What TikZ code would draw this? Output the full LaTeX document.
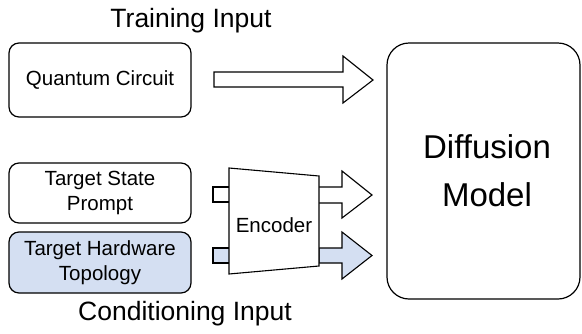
\documentclass[tikz,border=0pt]{standalone}
\usepackage{fontspec}
\setmainfont{Liberation Sans}
\definecolor{lblue}{HTML}{D4DFF2}
\tikzset{
  box/.style={draw=black, line width=1.2pt, rounded corners=10pt},
  shp/.style={draw=black, line width=1.1pt, line join=miter},
  lbl/.style={inner sep=0pt, align=center, font=\fontsize{20.5}{25}\selectfont},
  head/.style={inner sep=0pt, font=\fontsize{26.5}{30}\selectfont},
}
\begin{document}
\begin{tikzpicture}[x=1pt,y=-1pt]
\useasboundingbox (0,0) rectangle (582,333);
% boxes
\draw[box] (9,43) rectangle (191,117);
\node[lbl] (qc) at (100,80) {Quantum Circuit};
\draw[box] (9,163) rectangle (191,223);
\node[lbl] (tsp) at (100,193) {Target State\\Prompt};
\draw[box, fill=lblue] (9,232) rectangle (191,293);
\node[lbl] (thw) at (100,262.5) {Target Hardware\\Topology};
\draw[box, rounded corners=22pt] (387,43) rectangle (580,299);
\node[inner sep=0pt, align=center, font=\fontsize{33}{48}\selectfont] (dm) at (487,171) {Diffusion\\Model};
% headings
\node[head] (ti) at (191,21) {Training Input};
\node[head] (ci) at (185,314) {Conditioning Input};
% training arrow
\draw[shp] (214,72) -- (343,72) -- (343,56) -- (373,80) -- (343,103) -- (343,87) -- (214,87) -- cycle;
% stubs
\draw[shp] (229,187) -- (213,187) -- (213,202) -- (229,202);
\draw[shp, fill=lblue] (229,248) -- (213,248) -- (213,263) -- (229,263);
% output arrows
\draw[shp] (319,187) -- (342,187) -- (342,171) -- (372,195) -- (342,218) -- (342,203) -- (319,203);
\draw[shp, fill=lblue] (319,248) -- (342,248) -- (342,232) -- (372,255.5) -- (342,279) -- (342,263) -- (319,263) -- cycle;
% encoder
\draw[shp, fill=white] (229,168) -- (319,176) -- (319,266) -- (229,274) -- cycle;
\node[lbl] (enc) at (274,225) {Encoder};
\end{tikzpicture}
\end{document}
